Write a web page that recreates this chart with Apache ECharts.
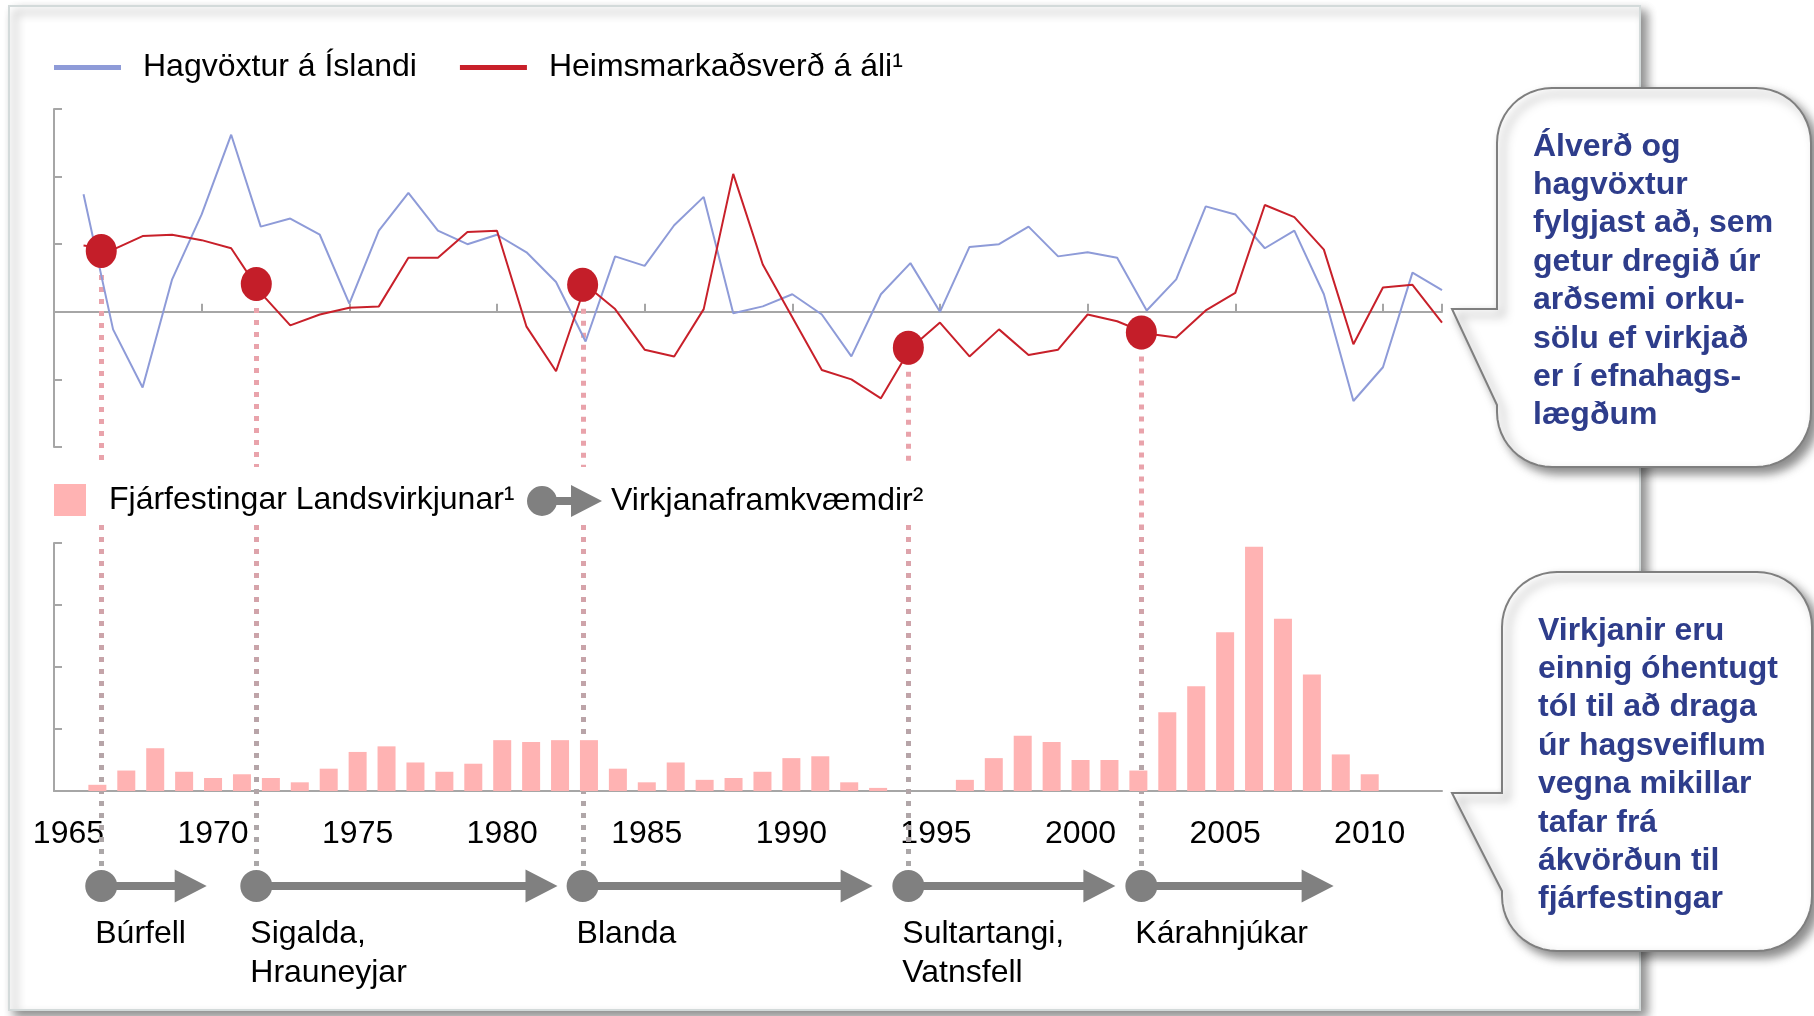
<!DOCTYPE html>
<html>
<head>
<meta charset="utf-8">
<script src="https://cdn.jsdelivr.net/npm/echarts@6/dist/echarts.min.js"></script>
<style>
html, body { margin: 0; padding: 0; background: #fff; }
#main { width: 1814px; height: 1016px; }
</style>
</head>
<body>
<div id="main"></div>
<script>
let FONT = "'Liberation Sans', Arial, sans-serif";

// efri mynd: hagvöxtur og álverð (engin kvarðagildi sýnd á upprunalegri mynd)
let lineYears = [1966, 1967, 1968, 1969, 1970, 1971, 1972, 1973, 1974, 1975, 1976, 1977, 1978, 1979, 1980,
    1981, 1982, 1983, 1984, 1985, 1986, 1987, 1988, 1989, 1990, 1991, 1992, 1993, 1994, 1995, 1996, 1997,
    1998, 1999, 2000, 2001, 2002, 2003, 2004, 2005, 2006, 2007, 2008, 2009, 2010, 2011, 2012];
let hagvoxtur = [8.7, -1.3, -5.6, 2.4, 7.2, 13.1, 6.3, 6.9, 5.7, 0.6, 6.0, 8.8, 6.0, 5.0, 5.7,
    4.4, 2.2, -2.2, 4.1, 3.4, 6.4, 8.5, -0.1, 0.4, 1.3, -0.2, -3.3, 1.3, 3.6, 0.0, 4.8, 5.0,
    6.3, 4.1, 4.4, 4.0, 0.1, 2.4, 7.8, 7.2, 4.7, 6.0, 1.3, -6.6, -4.1, 2.9, 1.6];
let alverd = [4.9, 4.6, 5.6, 5.7, 5.3, 4.7, 1.4, -1.0, -0.2, 0.3, 0.4, 4.0, 4.0, 5.9, 6.0,
    -1.1, -4.4, 2.0, 0.2, -2.8, -3.3, 0.2, 10.2, 3.5, -0.4, -4.3, -5.0, -6.4, -2.7, -0.8, -3.3, -1.3,
    -3.2, -2.8, -0.2, -0.7, -1.6, -1.9, 0.1, 1.4, 7.9, 7.0, 4.6, -2.4, 1.8, 2.0, -0.8];

// neðri mynd: fjárfestingar
let barYears = ['1965', '1966', '1967', '1968', '1969', '1970', '1971', '1972', '1973', '1974', '1975', '1976',
    '1977', '1978', '1979', '1980', '1981', '1982', '1983', '1984', '1985', '1986', '1987', '1988', '1989',
    '1990', '1991', '1992', '1993', '1994', '1995', '1996', '1997', '1998', '1999', '2000', '2001', '2002',
    '2003', '2004', '2005', '2006', '2007', '2008', '2009', '2010', '2011', '2012'];
let fjarfesting = [null, 1.0, 3.3, 6.9, 3.1, 2.1, 2.7, 2.1, 1.4, 3.6, 6.3, 7.2,
    4.6, 3.1, 4.4, 8.2, 7.9, 8.2, 8.2, 3.6, 1.4, 4.6, 1.8, 2.1, 3.1,
    5.3, 5.6, 1.4, 0.5, 0, 0, 1.8, 5.3, 8.9, 7.9, 5.0, 5.0, 3.3,
    12.7, 16.9, 25.6, 39.4, 27.8, 18.8, 5.9, 2.7, null, null];

// virkjanaframkvæmdir
let projectNames = ['Búrfell', 'Sigalda,\nHrauneyjar', 'Blanda', 'Sultartangi,\nVatnsfell', 'Kárahnjúkar'];
let projectStart = [1966.6, 1971.85, 1982.9, 1993.93, 2001.82];
let projectEnd = [1970.17, 1982.05, 1992.72, 2000.94, 2008.33];
let markerValue = [4.5, 2.05, 2.0, -2.65, -1.53];

let callout1 = ['Álverð og', 'hagvöxtur', 'fylgjast að, sem', 'getur dregið úr', 'arðsemi orku-',
    'sölu ef virkjað', 'er í efnahags-', 'lægðum'];
let callout2 = ['Virkjanir eru', 'einnig óhentugt', 'tól til að draga', 'úr hagsveiflum', 'vegna mikillar',
    'tafar frá', 'ákvörðun til', 'fjárfestingar'];

let blue = '#8E9BD8';
let red = '#C8202A';
let gray = '#808080';
let axisGray = '#A6A6A6';

function calloutPoints(l, t, r, b, rad, pTop, pBottom, tipX) {
    let pts = [[l, pTop]];
    let corners = [[l + rad, t + rad, Math.PI], [r - rad, t + rad, Math.PI * 1.5],
        [r - rad, b - rad, 0], [l + rad, b - rad, Math.PI / 2]];
    corners.forEach(c => {
        for (let k = 0; k <= 12; k++) {
            let a = c[2] + k / 12 * Math.PI / 2;
            pts.push([c[0] + rad * Math.cos(a), c[1] + rad * Math.sin(a)]);
        }
    });
    pts.push([l, pBottom]);
    pts.push([tipX, pTop]);
    return pts;
}

let shadow = {shadowBlur: 10, shadowOffsetX: 6, shadowOffsetY: 6, shadowColor: 'rgba(0,0,0,0.45)'};

let baseGraphic = [{
    id: 'panel', type: 'rect', z: -5,
    shape: {x: 9, y: 6, width: 1631, height: 1004},
    style: Object.assign({fill: '#fff', stroke: '#D3DADA', lineWidth: 2}, shadow)
}, {
    id: 'c1', type: 'polygon', z: 20,
    shape: {points: calloutPoints(1497, 88, 1811, 467, 55, 309, 405, 1452)},
    style: Object.assign({fill: '#fff', stroke: '#7F7F7F', lineWidth: 2}, shadow)
}, {
    id: 'c1t', type: 'text', z: 21, x: 1533, y: 127.5,
    style: {text: callout1.join('\n'), fill: '#2E3D8B', fontSize: 32, fontWeight: 'bold', fontFamily: FONT,
        lineHeight: 38.4, verticalAlign: 'top'}
}, {
    id: 'c2', type: 'polygon', z: 20,
    shape: {points: calloutPoints(1502, 572, 1812, 951, 55, 793, 891, 1452)},
    style: Object.assign({fill: '#fff', stroke: '#7F7F7F', lineWidth: 2}, shadow)
}, {
    id: 'c2t', type: 'text', z: 21, x: 1538, y: 611.5,
    style: {text: callout2.join('\n'), fill: '#2E3D8B', fontSize: 32, fontWeight: 'bold', fontFamily: FONT,
        lineHeight: 38.4, verticalAlign: 'top'}
}];

let arrowIcon = 'path://M15,1A15,15,0,1,1,15,31A15,15,0,1,1,15,1ZM26,12L44,12L44,0L75,16L44,32L44,20L26,20Z';

let option = {
    animation: false,
    backgroundColor: '#fff',
    textStyle: {fontFamily: FONT},
    legend: [{
        data: [{name: 'Hagvöxtur á Íslandi', icon: 'rect'}, {name: 'Heimsmarkaðsverð á áli¹', icon: 'rect'}],
        left: 54, top: 51.5, padding: 0, itemWidth: 67, itemHeight: 5, itemGap: 43, selectedMode: false,
        textStyle: {fontSize: 32, color: '#000', padding: [0, 0, 0, 17]}
    }, {
        data: [{name: 'Fjárfestingar Landsvirkjunar¹', icon: 'rect'}],
        left: 54, top: 484, padding: 0, itemWidth: 32, itemHeight: 32, selectedMode: false,
        textStyle: {fontSize: 32, color: '#000', padding: [0, 0, 0, 18]}
    }, {
        data: [{name: 'Virkjanaframkvæmdir²', icon: arrowIcon, itemStyle: {color: gray}}],
        left: 527, top: 485, padding: 0, itemWidth: 75, itemHeight: 32, selectedMode: false,
        textStyle: {fontSize: 32, color: '#000', padding: [0, 0, 0, 4]}
    }],
    grid: [
        {left: 54, right: 372, top: 109, height: 338},
        {left: 54, right: 372, top: 543, height: 248},
        {left: 54, right: 372, top: 870, height: 32}
    ],
    xAxis: [{
        gridIndex: 0, type: 'value', min: 1965, max: 2012, interval: 5,
        axisLine: {onZero: true, lineStyle: {color: axisGray, width: 2}},
        axisTick: {show: true, inside: true, length: 8, lineStyle: {color: axisGray, width: 2}},
        axisLabel: {show: false}, splitLine: {show: false}
    }, {
        gridIndex: 1, type: 'category', data: barYears,
        axisLine: {lineStyle: {color: axisGray, width: 2}},
        axisTick: {show: false},
        axisLabel: {interval: 4, fontSize: 32, color: '#000', margin: 27.5, fontFamily: FONT}
    }, {
        gridIndex: 2, type: 'value', min: 1965, max: 2012, show: false
    }],
    yAxis: [{
        gridIndex: 0, type: 'value', min: -10, max: 15, interval: 5,
        axisLine: {show: true, lineStyle: {color: axisGray, width: 2}},
        axisTick: {show: true, inside: true, length: 8, lineStyle: {color: axisGray, width: 2}},
        axisLabel: {show: false}, splitLine: {show: false}
    }, {
        gridIndex: 1, type: 'value', min: 0, max: 40, interval: 10,
        axisLine: {show: true, lineStyle: {color: axisGray, width: 2}},
        axisTick: {show: true, inside: true, length: 8, lineStyle: {color: axisGray, width: 2}},
        axisLabel: {show: false}, splitLine: {show: false}
    }, {
        gridIndex: 2, type: 'value', min: 0, max: 1, show: false
    }],
    series: [{
        name: 'Hagvöxtur á Íslandi', type: 'line', xAxisIndex: 0, yAxisIndex: 0, z: 3,
        data: lineYears.map((y, i) => [y, hagvoxtur[i]]),
        showSymbol: false, lineStyle: {color: blue, width: 2}, itemStyle: {color: blue}
    }, {
        name: 'Heimsmarkaðsverð á áli¹', type: 'line', xAxisIndex: 0, yAxisIndex: 0, z: 3,
        data: lineYears.map((y, i) => [y, alverd[i]]),
        showSymbol: false, lineStyle: {color: red, width: 2}, itemStyle: {color: red}
    }, {
        name: 'markers', type: 'scatter', xAxisIndex: 0, yAxisIndex: 0, z: 6,
        data: projectStart.map((y, i) => [y, markerValue[i]]),
        symbol: 'circle', symbolSize: [31, 34], itemStyle: {color: '#C41E29', opacity: 1}
    }, {
        name: 'Fjárfestingar Landsvirkjunar¹', type: 'bar', xAxisIndex: 1, yAxisIndex: 1,
        data: fjarfesting, barWidth: 18, itemStyle: {color: '#FFB3B3'}
    }, {
        name: 'Virkjanaframkvæmdir²', type: 'custom', xAxisIndex: 2, yAxisIndex: 2, z: 6,
        itemStyle: {color: gray},
        data: projectStart.map((s, i) => [s, projectEnd[i]]),
        encode: {x: [0, 1]},
        renderItem: function (params, api) {
            let s = api.coord([api.value(0), 0.5]);
            let e = api.coord([api.value(1), 0.5]);
            let head = 32, half = 16.5;
            return {
                type: 'group', children: [{
                    type: 'rect', shape: {x: s[0], y: s[1] - 4, width: e[0] - head - s[0] + 1, height: 8},
                    style: {fill: gray}
                }, {
                    type: 'polygon',
                    shape: {points: [[e[0] - head, s[1] - half], [e[0], s[1]], [e[0] - head, s[1] + half]]},
                    style: {fill: gray}
                }, {
                    type: 'circle', shape: {cx: s[0], cy: s[1], r: 16}, style: {fill: gray}
                }, {
                    type: 'text', x: s[0] - 6, y: s[1] + 29,
                    style: {text: projectNames[params.dataIndex], fill: '#000', fontSize: 32, fontFamily: FONT,
                        lineHeight: 39, align: 'left', verticalAlign: 'top'}
                }]
            };
        }
    }],
    graphic: baseGraphic
};

let chart = echarts.init(document.getElementById('main'));
chart.setOption(option);

// lóðréttar punktalínur frá merki niður að tímalínu
let legendBand = [467, 525];
let legendRight = 940;
let dashGraphic = [];
projectStart.forEach((yr, i) => {
    let top = chart.convertToPixel({gridIndex: 0}, [yr, markerValue[i]]);
    let bot = chart.convertToPixel({gridIndex: 2}, [yr, 0.5]);
    let x = Math.round(top[0]) + 0.5;
    let upperEnd = x < legendRight ? legendBand[0] : legendBand[1];
    dashGraphic.push({
        id: 'du' + i, type: 'line', z: 1,
        shape: {x1: x, y1: top[1], x2: x, y2: upperEnd},
        style: {stroke: '#E9A3AB', lineWidth: 5, lineDash: [5, 7]}
    });
    dashGraphic.push({
        id: 'dl' + i, type: 'line', z: 1,
        shape: {x1: x, y1: legendBand[1], x2: x, y2: bot[1]},
        style: {
            stroke: new echarts.graphic.LinearGradient(x, legendBand[1], x, bot[1], [
                {offset: 0, color: '#E3A3AB'}, {offset: 0.55, color: '#B9A4A8'}, {offset: 1, color: '#A8A8A8'}
            ], true),
            lineWidth: 5, lineDash: [5, 7]
        }
    });
});
chart.setOption({graphic: baseGraphic.concat(dashGraphic)});
</script>
</body>
</html>
